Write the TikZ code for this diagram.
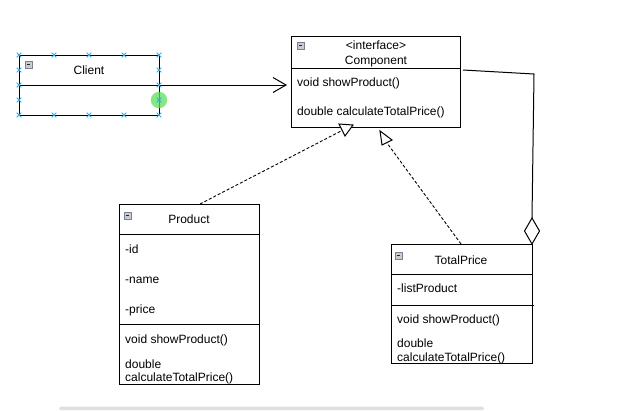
\documentclass[tikz,border=0pt]{standalone}
\usepackage{fontspec}
\setmainfont{Liberation Sans}
\usetikzlibrary{arrows.meta,shapes.geometric,calc}
\definecolor{selblue}{RGB}{50,170,230}
\definecolor{selgreen}{RGB}{90,225,90}
\definecolor{iconborder}{RGB}{120,130,145}
\definecolor{iconfill}{RGB}{200,204,210}
\definecolor{barcol}{RGB}{224,224,224}
\begin{document}
\begin{tikzpicture}[x=1pt,y=-1pt,
  box/.style={draw,line width=1pt,inner sep=0pt,outer sep=0pt,anchor=north west},
  sep/.style={line width=1pt},
  ctxt/.style={font=\fontsize{12}{14}\selectfont,inner sep=0pt,anchor=base},
  ltxt/.style={font=\fontsize{12}{14}\selectfont,inner sep=0pt,anchor=base west},
  conn/.style={line width=1pt,black},
  dashconn/.style={line width=0.9pt,dash pattern=on 3pt off 2pt},
  hollow/.style={draw,line width=1pt,fill=white,line join=miter},
  icon/.pic={
    \draw[draw=iconborder,fill=iconfill,line width=0.7pt] (0,0) rectangle (7,7);
    \draw[line width=1pt,black!85] (1.6,3.5) -- (5.4,3.5);
  },
  xmark/.pic={
    \draw[selblue,line width=0.9pt] (-2.3,-2.3) -- (2.3,2.3) (-2.3,2.3) -- (2.3,-2.3);
  }]
\useasboundingbox (0,0) rectangle (620,410);
\fill[white] (0,0) rectangle (620,410);

% ---------- Client ----------
\node[box,minimum width=140pt,minimum height=60pt] (client) at (19,55) {};
\draw[sep] (19,85) -- (159,85);
\node[ctxt] (clientname) at (89,74) {Client};
\pic at (25,61) {icon};

% ---------- Component ----------
\node[box,minimum width=169pt,minimum height=91pt] (comp) at (291,36) {};
\draw[sep] (291,68) -- (460,68);
\pic at (297,42) {icon};
\node[ctxt] (stereo) at (376,49) {<interface>};
\node[ctxt] (compname) at (376,64) {Component};
\node[ltxt] (cm1) at (297,86) {void showProduct()};
\node[ltxt] (cm2) at (297,115) {double calculateTotalPrice()};

% ---------- Product ----------
\node[box,minimum width=140pt,minimum height=180pt] (prod) at (119,204) {};
\draw[sep] (119,234) -- (259,234);
\draw[sep] (119,324) -- (259,324);
\pic at (124,212) {icon};
\node[ctxt] (prodname) at (189,223) {Product};
\node[ltxt] (pa1) at (125,253) {-id};
\node[ltxt] (pa2) at (125,283) {-name};
\node[ltxt] (pa3) at (125,313) {-price};
\node[ltxt] (pm1) at (125,343) {void showProduct()};
\node[ltxt] (pm2a) at (125,368) {double};
\node[ltxt] (pm2b) at (125,381) {calculateTotalPrice()};

% ---------- TotalPrice ----------
\node[box,minimum width=141pt,minimum height=119pt] (tp) at (391,244) {};
\draw[sep] (391,274) -- (532,274);
\draw[sep] (391,305) -- (534,305);
\pic at (395,252) {icon};
\node[ctxt] (tpname) at (461,264) {TotalPrice};
\node[ltxt] (ta1) at (397,292) {-listProduct};
\node[ltxt] (tm1) at (397,323) {void showProduct()};
\node[ltxt] (tm2a) at (397,347) {double};
\node[ltxt] (tm2b) at (397,361) {calculateTotalPrice()};

% ---------- association Client -> Component ----------
\coordinate (assocStart) at (159,85);
\coordinate (assocEnd) at (287,85);
\draw[conn,-{Straight Barb[length=13pt,width=15pt,line width=1pt]}] (assocStart) -- (assocEnd);

% ---------- realization Product -> Component ----------
\coordinate (r1a) at (339,124);
\coordinate (r1b) at (353,125);
\coordinate (r1c) at (345,136);
\coordinate (prodTop) at (200,204);
\coordinate (r1hit) at (341,131);
\draw[dashconn] (prodTop) -- (r1hit);
\draw[hollow] (r1a) -- (r1b) -- (r1c) -- cycle;

% ---------- realization TotalPrice -> Component ----------
\coordinate (r2a) at (380,131);
\coordinate (r2b) at (392,140);
\coordinate (r2c) at (382,145);
\coordinate (tpTop) at (461,244);
\coordinate (r2hit) at (387,143);
\draw[dashconn] (tpTop) -- (r2hit);
\draw[hollow] (r2a) -- (r2b) -- (r2c) -- cycle;

% ---------- aggregation TotalPrice <>- Component ----------
\node[diamond,draw,line width=1pt,fill=white,inner sep=0pt,outer sep=0pt,
      minimum width=15pt,minimum height=26pt,anchor=south] (dia) at (532,244) {};
\coordinate (aggStart) at (463,70);
\coordinate (aggBend) at (534,74);
\draw[conn] (aggStart) -- (aggBend) -- (dia.north);

% ---------- selection handles on Client ----------
\fill[selgreen,fill opacity=0.75] (159,100) circle (8.2);
\foreach \x in {19,54,89,124,159} {
  \pic at (\x,55) {xmark};
  \pic at (\x,115) {xmark};
}
\foreach \y in {70,85,100} {
  \pic at (19,\y) {xmark};
  \pic at (159,\y) {xmark};
}

% ---------- bottom scrollbar ----------
\fill[barcol,rounded corners=1.5pt] (59,406.5) rectangle (484,410);
\end{tikzpicture}
\end{document}
